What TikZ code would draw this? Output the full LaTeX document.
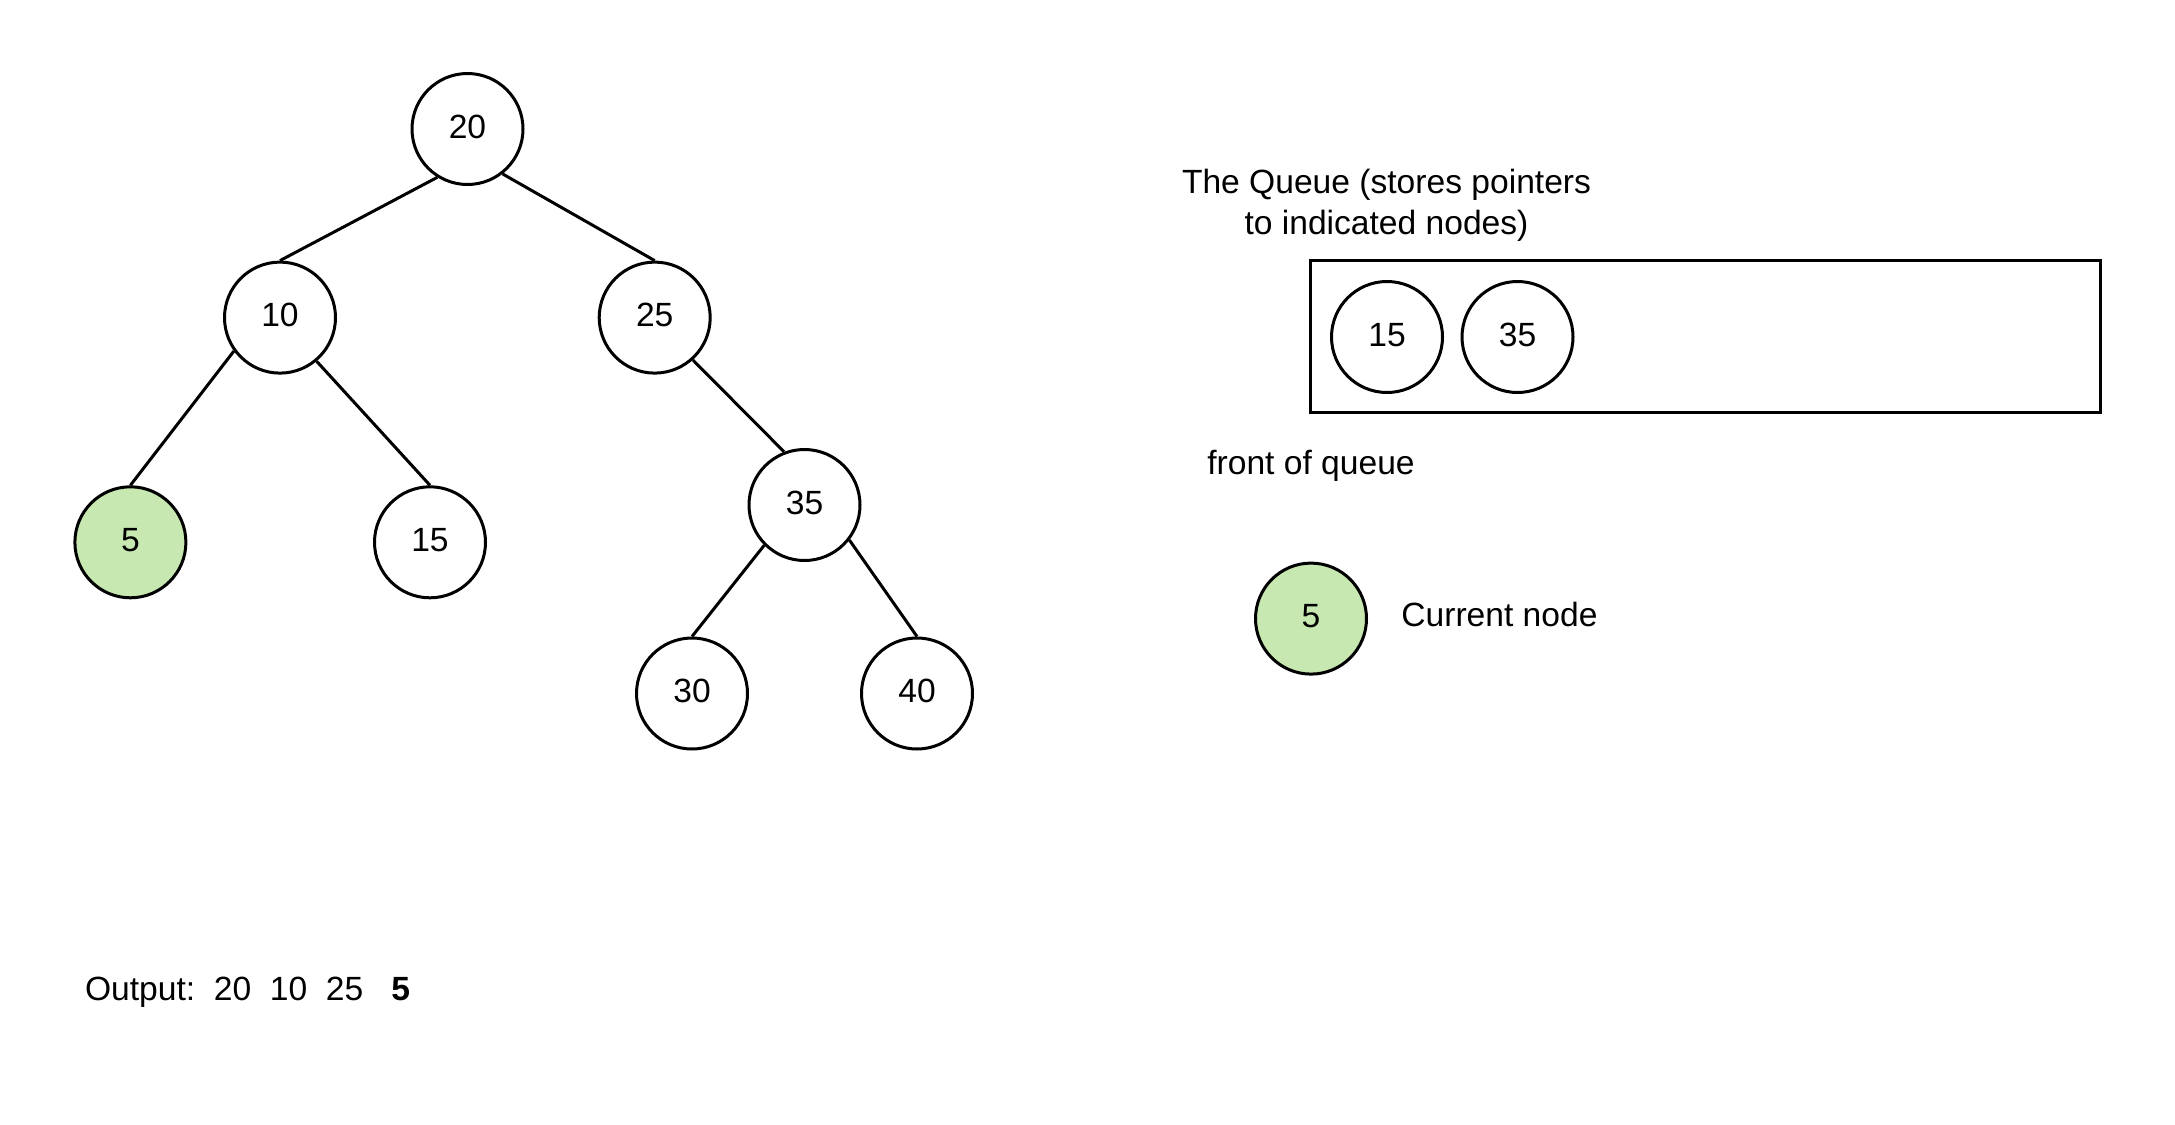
\documentclass[tikz,border=0pt]{standalone}
\usepackage{fontspec}
\setmainfont{Liberation Sans}
\definecolor{curgreen}{RGB}{199,232,176}
\begin{document}
\begin{tikzpicture}[x=0.5pt,y=-0.5pt,
  every node/.style={font=\fontsize{16.8}{21}\selectfont},
  tn/.style={circle,draw,line width=1.5pt,minimum size=55.5pt,inner sep=0pt,text height=12pt,text depth=3pt},
  cur/.style={tn,fill=curgreen},
  edge/.style={line width=1.5pt}]
\useasboundingbox (0,0) rectangle (2175,1125);
% tree
\node[tn] (n20) at (467.5,129) {20};
\node[tn] (n10) at (280,317.6) {10};
\node[tn] (n25) at (654.7,317.6) {25};
\node[cur] (n5) at (130.4,542.3) {5};
\node[tn] (n15) at (430,542.3) {15};
\node[tn] (n35) at (804.5,505) {35};
\node[tn] (n30) at (692,693.5) {30};
\node[tn] (n40) at (917,693.5) {40};
\draw[edge] (n20.-122) -- (n10.north);
\draw[edge] (n20.-52) -- (n25.north);
\draw[edge] (n10.-144) -- (n5.north);
\draw[edge] (n10.-50) -- (n15.north);
\draw[edge] (n25.-48) -- (n35.111);
\draw[edge] (n35.-135) -- (n30.north);
\draw[edge] (n35.-38) -- (n40.north);
% queue
\node[align=center,font=\fontsize{16.8}{20.5}\selectfont] (title) at (1386.5,205) {The Queue (stores pointers\\to indicated nodes)};
\draw[line width=1.5pt] (1310.8,260.8) rectangle (2100,412);
\node[tn] (q15) at (1387,337) {15};
\node[tn] (q35) at (1517.5,337) {35};
\node (front) at (1311,466) {front of queue};
\node[cur] (c5) at (1311,618.6) {5};
\node[anchor=west,inner sep=0pt] (curlbl) at (1401,614.5) {Current node};
% output
\node[anchor=west,inner sep=0pt] (out) at (84.6,992) {Output:\ \ 20\ \ 10\ \ 25\ \ \ \textbf{5}};
\end{tikzpicture}
\end{document}
